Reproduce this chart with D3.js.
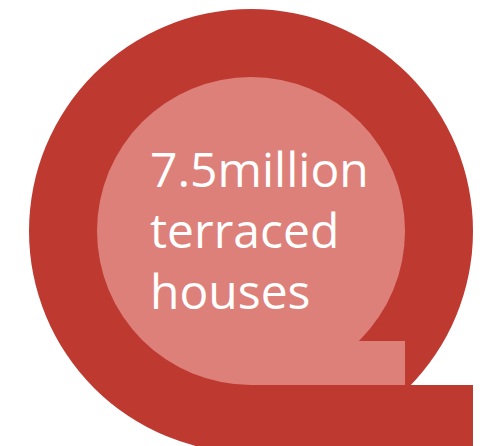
<!DOCTYPE html>
<html>
<head>
<meta charset="utf-8">
<script src="https://cdn.jsdelivr.net/npm/d3@7"></script>
<style>
  html, body { margin: 0; padding: 0; background: #fff; }
  svg { display: block; }
</style>
</head>
<body>
<div id="chart"></div>
<script>
// label lines and share of the ring
var labelLines = ["7.5million", "terraced", "houses"];
var ringColors = ["#be3930", "#de807a"];

var width = 487, height = 446;
var cx = 251, cy = 231;
var outerR = 222, innerR = 154;

var svg = d3.select("#chart").append("svg")
    .attr("width", width)
    .attr("height", height);

var g = svg.append("g").attr("transform", `translate(${cx},${cy})`);

// outer red ring shape: circle plus squared tail at bottom right
g.append("circle")
    .attr("r", outerR)
    .attr("fill", ringColors[0]);

g.append("rect")
    .attr("x", 0)
    .attr("y", innerR)
    .attr("width", outerR)
    .attr("height", outerR - innerR)
    .attr("fill", ringColors[0]);

// inner light disc with squared corner
g.append("circle")
    .attr("r", innerR)
    .attr("fill", ringColors[1]);

g.append("rect")
    .attr("x", 0)
    .attr("y", innerR - 44)
    .attr("width", innerR)
    .attr("height", 44)
    .attr("fill", ringColors[1]);

var lineY = d3.scaleLinear().domain([0, 1]).range([187, 248]);

svg.selectAll(".lbl")
    .data(labelLines)
    .enter()
    .append("text")
    .attr("class", "lbl")
    .attr("x", 150)
    .attr("y", (d, i) => lineY(i))
    .attr("fill", "#fff")
    .style("font-family", "'Open Sans', sans-serif")
    .style("font-size", "48px")
    .text(d => d);
</script>
</body>
</html>
